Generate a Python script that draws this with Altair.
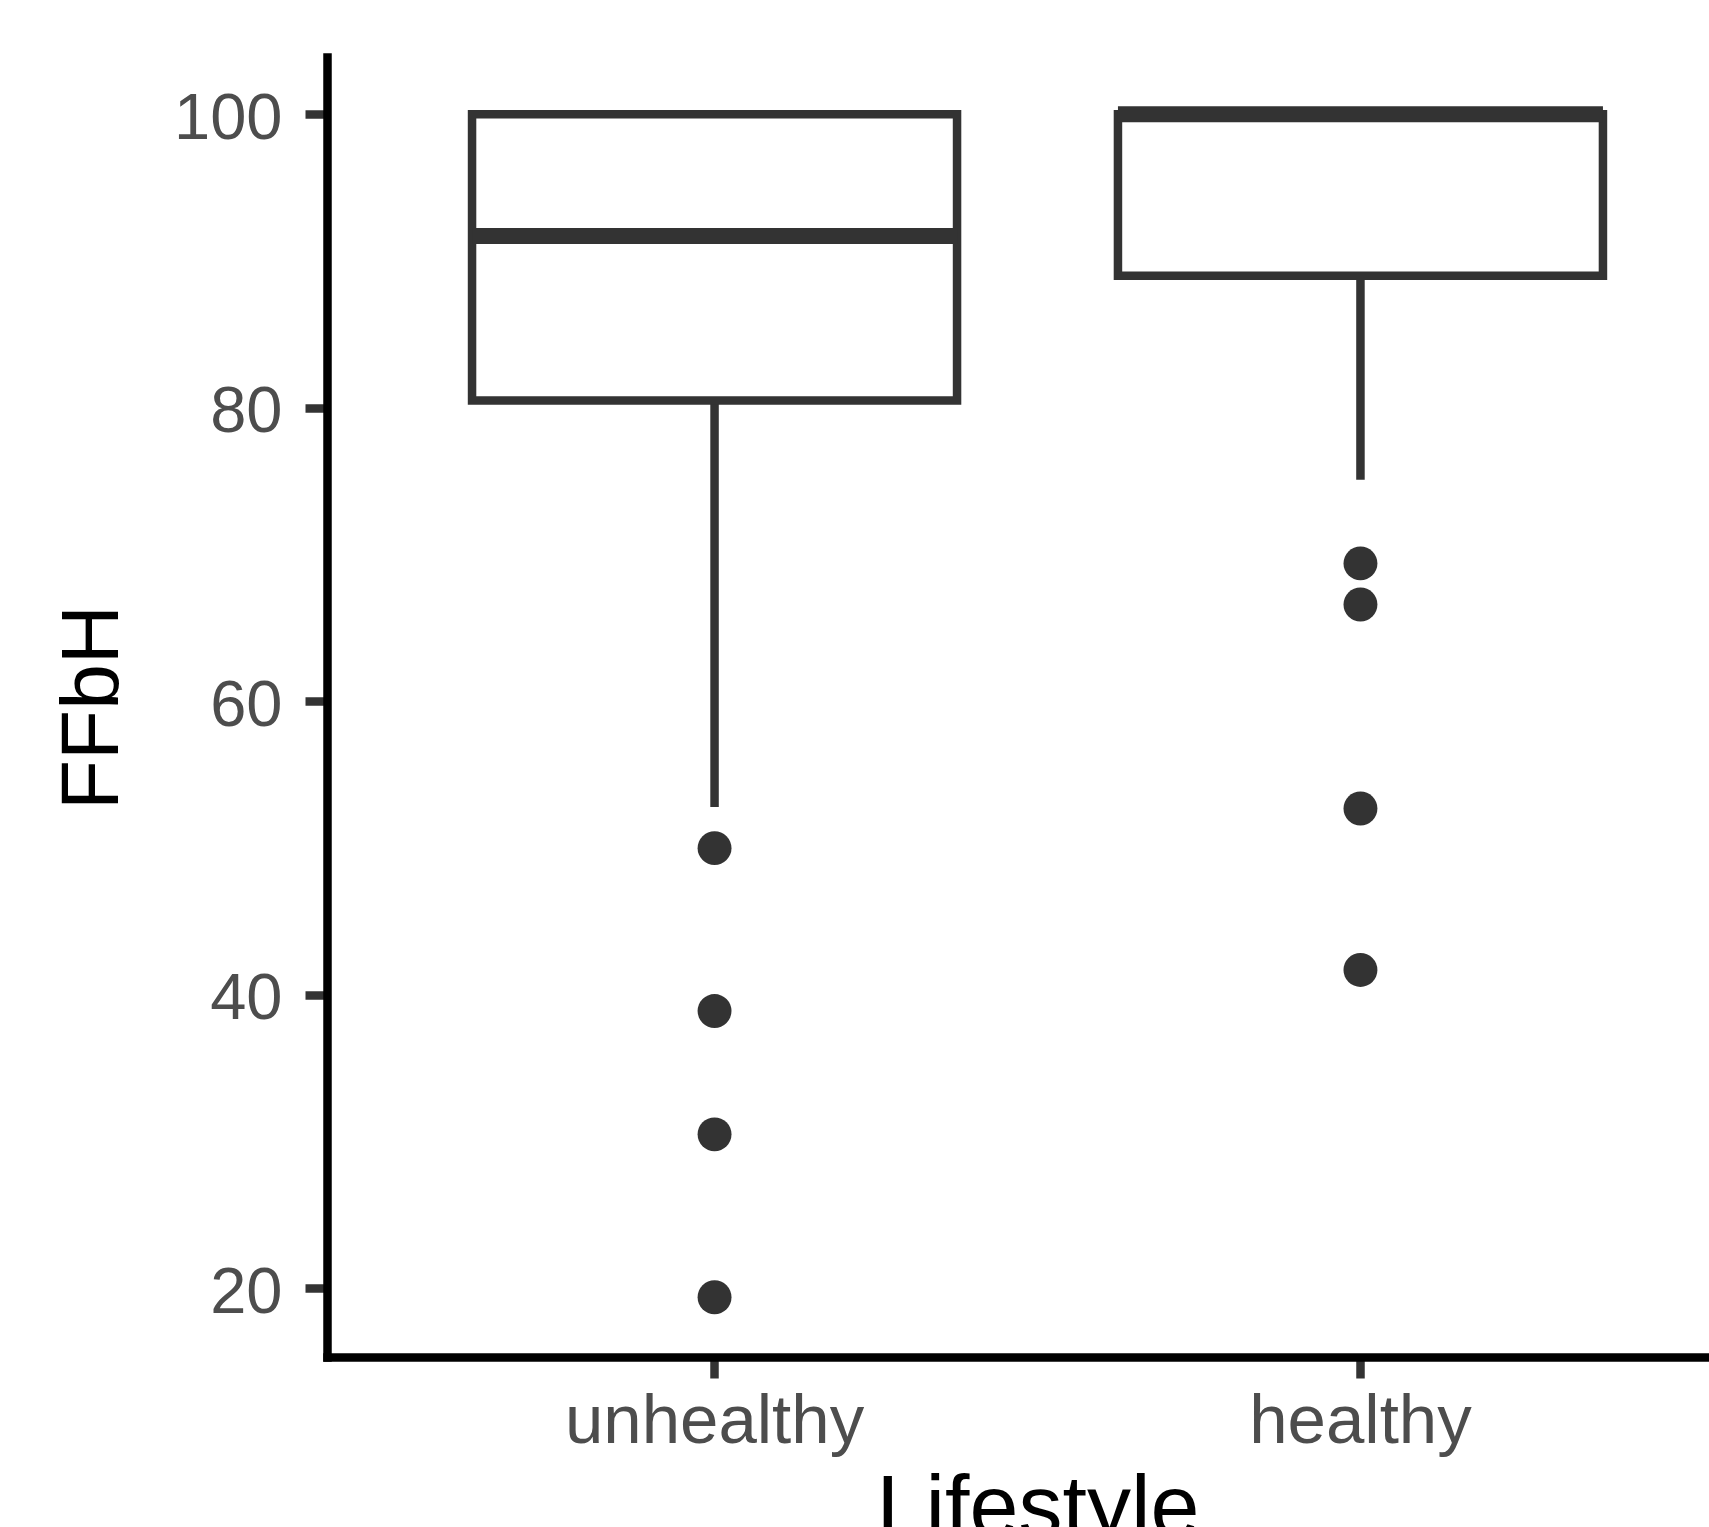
import altair as alt
import pandas as pd

# Categories and box summary values
lifestyle = ["unhealthy", "healthy"]
q1 = [80.5, 89.0]
median = [91.7, 100.0]
q3 = [100.0, 100.0]
whisker_low = [52.8, 75.1]

# Outliers
outlier_group = ["unhealthy", "unhealthy", "unhealthy", "unhealthy",
                 "healthy", "healthy", "healthy", "healthy"]
outlier_value = [50.0, 38.9, 30.5, 19.4, 69.4, 66.6, 52.7, 41.7]

y_ticks = [20, 40, 60, 80, 100]

summary = pd.DataFrame({
    "Lifestyle": lifestyle, "q1": q1, "median": median, "q3": q3,
    "wlow": whisker_low,
})
outliers = pd.DataFrame({"Lifestyle": outlier_group, "FFbH": outlier_value})

FONT = "Liberation Sans"
INK = "#333333"
LW = 8.5

x_enc = alt.X(
    "Lifestyle:N", sort=lifestyle,
    scale=alt.Scale(range=[0, 1421], paddingInner=0, paddingOuter=0.1),
    axis=alt.Axis(
        title="Lifestyle", labelAngle=0, labelLimit=0,
        domainColor="black", domainWidth=LW, domainCap="square",
        tickColor=INK, tickWidth=LW, tickSize=21,
        labelFont=FONT, labelFontSize=69, labelColor="#4D4D4D",
        labelBaseline="alphabetic", labelPadding=64,
        titleFont=FONT, titleFontSize=88, titleColor="black",
        titleFontWeight="normal", titleBaseline="alphabetic", titleY=178,
        titleLimit=0, grid=False,
    ),
)

y_scale = alt.Scale(domain=[15.33, 103.9], nice=False, zero=False)
y_axis = alt.Axis(
    title="FFbH", values=y_ticks, labelLimit=0,
    domainColor="black", domainWidth=LW, domainCap="square",
    tickColor=INK, tickWidth=LW, tickSize=22,
    labelFont=FONT, labelFontSize=65, labelColor="#4D4D4D",
    labelPadding=23, labelBaseline="middle", labelOffset=4,
    titleFont=FONT, titleFontSize=82, titleColor="black",
    titleFontWeight="normal", titleAngle=270, titleAlign="center",
    titleBaseline="alphabetic", titleX=-210, titleY=650,
    titleLimit=0, grid=False,
)

base = alt.Chart(summary)

whiskers = base.mark_rule(color=INK, strokeWidth=LW).encode(
    x=x_enc,
    y=alt.Y("wlow:Q", scale=y_scale, axis=y_axis),
    y2="q1:Q",
)

boxes = base.mark_bar(fill="white", stroke=INK, strokeWidth=LW, size=485,
                      opacity=1).encode(
    x=x_enc,
    y=alt.Y("q1:Q", scale=y_scale, axis=y_axis),
    y2="q3:Q",
)

medians = base.mark_tick(color=INK, size=485, thickness=16, opacity=1).encode(
    x=x_enc,
    y=alt.Y("median:Q", scale=y_scale, axis=y_axis),
)

points = alt.Chart(outliers).mark_circle(size=1150, color=INK, opacity=1).encode(
    x=x_enc,
    y=alt.Y("FFbH:Q", scale=y_scale, axis=y_axis),
)

chart = alt.layer(whiskers, boxes, medians, points).properties(
    width=1382, height=1300,
    autosize=alt.AutoSizeParams(type="none"),
    padding={"left": 327, "top": 57, "right": 0, "bottom": 170},
    background="white",
    view=alt.ViewBackground(stroke="transparent", strokeWidth=0, strokeOpacity=0),
).configure_view(strokeWidth=0, stroke="transparent", strokeOpacity=0).configure(font=FONT)

chart.save("out.html", embed_options={"renderer": "svg", "actions": False})
